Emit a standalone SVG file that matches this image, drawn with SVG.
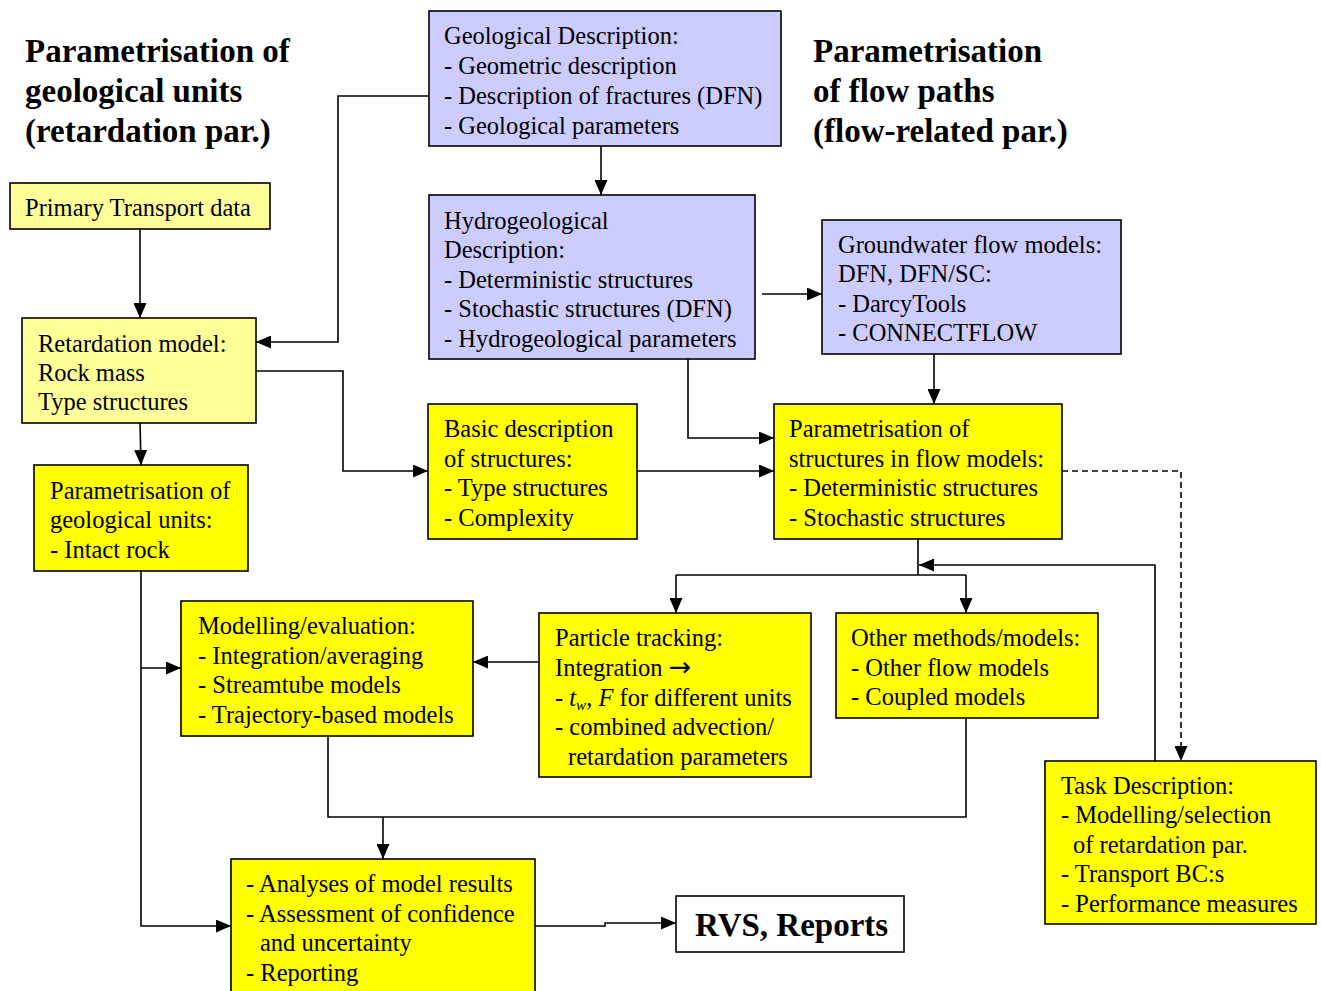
<svg xmlns="http://www.w3.org/2000/svg" width="1321" height="991" viewBox="0 0 1321 991">
  <style>
    text { font-family: "Liberation Serif", "Times New Roman", serif; fill: #000; }
    .t { font-size: 24.5px; }
    .h { font-size: 33px; font-weight: bold; }
    .box { stroke: #000; stroke-width: 1.6; }
    .blue { fill: #ccccff; }
    .pale { fill: #ffff99; }
    .yel { fill: #ffff00; }
    .wht { fill: #ffffff; }
    .ln { fill: none; stroke: #000; stroke-width: 1.6; }
    .dash { stroke-dasharray: 6 4; }
  </style>
  <defs>
    <marker id="arr" viewBox="0 0 15 13" refX="15" refY="6.5" markerWidth="15" markerHeight="13" markerUnits="userSpaceOnUse" orient="auto">
      <path d="M0,0 L15,6.5 L0,13 Z" fill="#000"/>
    </marker>
  </defs>
  <rect width="1321" height="991" fill="#ffffff"/>

  <!-- headings -->
  <g id="heading-left">
    <text class="h" x="25" y="62">Parametrisation of</text>
    <text class="h" x="25" y="102">geological units</text>
    <text class="h" x="25" y="142">(retardation par.)</text>
  </g>
  <g id="heading-right">
    <text class="h" x="813" y="62">Parametrisation</text>
    <text class="h" x="813" y="102">of flow paths</text>
    <text class="h" x="813" y="142">(flow-related par.)</text>
  </g>

  <!-- connectors -->
  <g id="connectors">
    <polyline class="ln" points="429,96 338,96 338,342 256,342" marker-end="url(#arr)"/>
    <polyline class="ln" points="601,146 601,195" marker-end="url(#arr)"/>
    <polyline class="ln" points="140,229 140,318" marker-end="url(#arr)"/>
    <polyline class="ln" points="140,423 141,465" marker-end="url(#arr)"/>
    <polyline class="ln" points="256,371 343,371 343,471 428,471" marker-end="url(#arr)"/>
    <polyline class="ln" points="762,294 822,294" marker-end="url(#arr)"/>
    <polyline class="ln" points="688,359 688,438 774,438" marker-end="url(#arr)"/>
    <polyline class="ln" points="934,354 934,404" marker-end="url(#arr)"/>
    <polyline class="ln" points="637,471 774,471" marker-end="url(#arr)"/>
    <polyline class="ln dash" points="1062,471 1181,471 1181,761" marker-end="url(#arr)"/>
    <polyline class="ln" points="918,539 918,575"/>
    <polyline class="ln" points="676,575 966,575"/>
    <polyline class="ln" points="676,575 676,613" marker-end="url(#arr)"/>
    <polyline class="ln" points="966,575 966,613" marker-end="url(#arr)"/>
    <polyline class="ln" points="1155,761 1155,565 919,565" marker-end="url(#arr)"/>
    <polyline class="ln" points="539,662 473,662" marker-end="url(#arr)"/>
    <polyline class="ln" points="141,571 141,926 231,926" marker-end="url(#arr)"/>
    <polyline class="ln" points="141,668 181,668" marker-end="url(#arr)"/>
    <polyline class="ln" points="328,736 328,817 966,817 966,718"/>
    <polyline class="ln" points="383,817 383,859" marker-end="url(#arr)"/>
    <polyline class="ln" points="535,926 605,926 605,923 676,923" marker-end="url(#arr)"/>
  </g>

  <!-- nodes -->
  <g id="geological-description">
    <rect class="box blue" x="429" y="11" width="352" height="135"/>
    <text class="t" x="444" y="44">Geological Description:</text>
    <text class="t" x="444" y="74">- Geometric description</text>
    <text class="t" x="444" y="104">- Description of fractures (DFN)</text>
    <text class="t" x="444" y="134">- Geological parameters</text>
  </g>

  <g id="primary-transport-data">
    <rect class="box pale" x="10" y="183" width="260" height="46"/>
    <text class="t" x="25" y="216">Primary Transport data</text>
  </g>

  <g id="retardation-model">
    <rect class="box pale" x="22" y="318" width="234" height="105"/>
    <text class="t" x="38" y="352">Retardation model:</text>
    <text class="t" x="38" y="381">Rock mass</text>
    <text class="t" x="38" y="410">Type structures</text>
  </g>

  <g id="geological-units">
    <rect class="box yel" x="34" y="465" width="214" height="106"/>
    <text class="t" x="50" y="499">Parametrisation of</text>
    <text class="t" x="50" y="528">geological units:</text>
    <text class="t" x="50" y="558">- Intact rock</text>
  </g>

  <g id="hydrogeological-description">
    <rect class="box blue" x="429" y="195" width="326" height="164"/>
    <text class="t" x="444" y="229">Hydrogeological</text>
    <text class="t" x="444" y="258">Description:</text>
    <text class="t" x="444" y="288">- Deterministic structures</text>
    <text class="t" x="444" y="317">- Stochastic structures (DFN)</text>
    <text class="t" x="444" y="347">- Hydrogeological parameters</text>
  </g>

  <g id="groundwater-flow-models">
    <rect class="box blue" x="822" y="220" width="299" height="134"/>
    <text class="t" x="838" y="253">Groundwater flow models:</text>
    <text class="t" x="838" y="282">DFN, DFN/SC:</text>
    <text class="t" x="838" y="312">- DarcyTools</text>
    <text class="t" x="838" y="341">- CONNECTFLOW</text>
  </g>

  <g id="basic-description">
    <rect class="box yel" x="428" y="404" width="209" height="135"/>
    <text class="t" x="444" y="437">Basic description</text>
    <text class="t" x="444" y="467">of structures:</text>
    <text class="t" x="444" y="496">- Type structures</text>
    <text class="t" x="444" y="526">- Complexity</text>
  </g>

  <g id="structures-in-flow-models">
    <rect class="box yel" x="774" y="404" width="288" height="135"/>
    <text class="t" x="789" y="437">Parametrisation of</text>
    <text class="t" x="789" y="467">structures in flow models:</text>
    <text class="t" x="789" y="496">- Deterministic structures</text>
    <text class="t" x="789" y="526">- Stochastic structures</text>
  </g>

  <g id="modelling-evaluation">
    <rect class="box yel" x="181" y="601" width="292" height="135"/>
    <text class="t" x="198" y="634">Modelling/evaluation:</text>
    <text class="t" x="198" y="664">- Integration/averaging</text>
    <text class="t" x="198" y="693">- Streamtube models</text>
    <text class="t" x="198" y="723">- Trajectory-based models</text>
  </g>

  <g id="particle-tracking">
    <rect class="box yel" x="539" y="613" width="272" height="164"/>
    <text class="t" x="555" y="646">Particle tracking:</text>
    <text class="t" x="555" y="676">Integration <tspan font-family="DejaVu Sans, sans-serif" font-size="27">→</tspan></text>
    <text class="t" x="555" y="706">- <tspan font-style="italic">t</tspan><tspan font-style="italic" font-size="15" dy="4">w</tspan><tspan dy="-4">, </tspan><tspan font-style="italic">F</tspan> for different units</text>
    <text class="t" x="555" y="735">- combined advection/</text>
    <text class="t" x="568" y="765">retardation parameters</text>
  </g>

  <g id="other-methods">
    <rect class="box yel" x="836" y="613" width="262" height="105"/>
    <text class="t" x="851" y="646">Other methods/models:</text>
    <text class="t" x="851" y="676">- Other flow models</text>
    <text class="t" x="851" y="705">- Coupled models</text>
  </g>

  <g id="task-description">
    <rect class="box yel" x="1045" y="761" width="271" height="163"/>
    <text class="t" x="1061" y="794">Task Description:</text>
    <text class="t" x="1061" y="823">- Modelling/selection</text>
    <text class="t" x="1073" y="853">of retardation par.</text>
    <text class="t" x="1061" y="882">- Transport BC:s</text>
    <text class="t" x="1061" y="912">- Performance measures</text>
  </g>

  <g id="analyses">
    <rect class="box yel" x="231" y="859" width="304" height="140"/>
    <text class="t" x="246" y="892">- Analyses of model results</text>
    <text class="t" x="246" y="922">- Assessment of confidence</text>
    <text class="t" x="260" y="951">and uncertainty</text>
    <text class="t" x="246" y="981">- Reporting</text>
  </g>

  <g id="rvs-reports">
    <rect class="box wht" x="676" y="896" width="228" height="56"/>
    <text x="695" y="936" font-size="33" font-weight="bold">RVS, Reports</text>
  </g>
</svg>
